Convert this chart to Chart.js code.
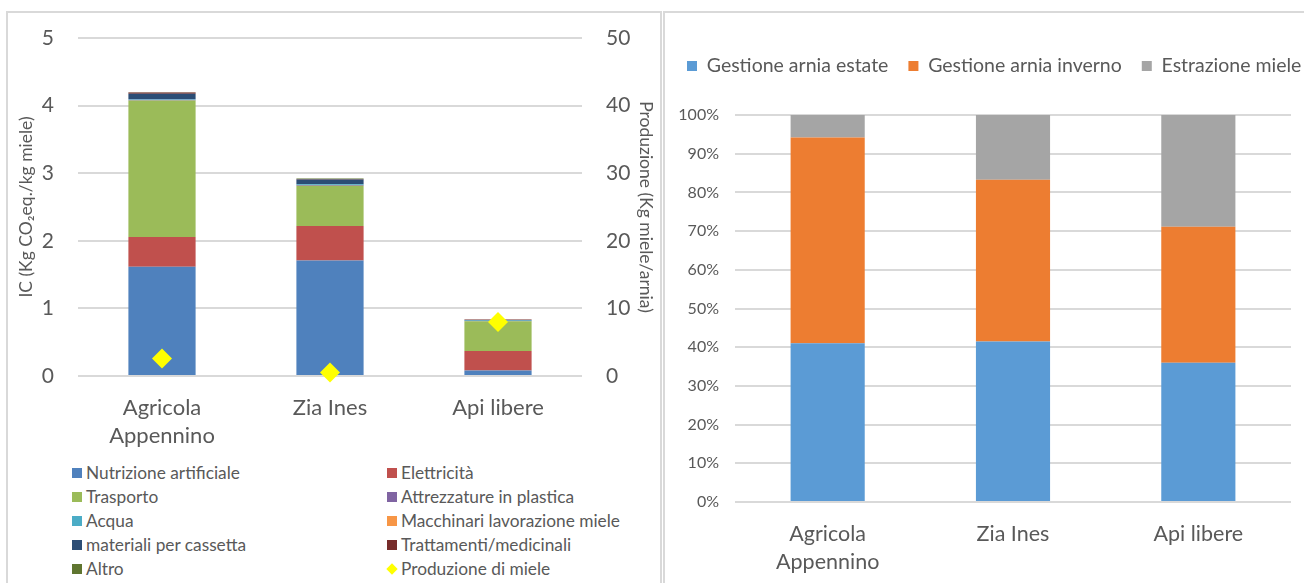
<!DOCTYPE html>
<html>
<head>
<meta charset="utf-8">
<script src="https://cdn.jsdelivr.net/npm/chart.js@4.4.1/dist/chart.umd.min.js"></script>
<style>
  html, body { margin: 0; padding: 0; background: #fff; width: 1304px; height: 583px; overflow: hidden; font-family: Lato, "Open Sans", sans-serif; }
  .panel { position: absolute; top: 11px; height: 640px; box-sizing: border-box; border: 2px solid #D9D9D9; border-bottom: none; }
  #p1 { left: 6px; width: 656px; }
  #p2 { left: 663px; width: 700px; }
  canvas { position: absolute; }
  #c1 { left: 0; top: 0; }
  #c2 { left: 663px; top: 0; }
  .lg-box { position: absolute; width: 10px; height: 10px; }
  .lg-diamond { position: absolute; width: 8px; height: 8px; transform: rotate(45deg); }
  .lg-text { position: absolute; font-size: 17.3px; line-height: 20px; color: #595959; white-space: nowrap; }
</style>
</head>
<body>
<div class="panel" id="p1"></div>
<div class="panel" id="p2"></div>
<canvas id="c1" width="660" height="460"></canvas>
<canvas id="c2" width="700" height="583"></canvas>
<div id="legend1"></div>
<script>
// Aziende confrontate
const categories = ['Agricola Appennino', 'Zia Ines', 'Api libere'];

// Impronta di carbonio per voce (kg CO2eq./kg miele)
const nutrizioneArtificiale = [1.617, 1.71, 0.08];
const elettricita = [0.44, 0.51, 0.29];
const trasporto = [2.02, 0.595, 0.44];
const attrezzatureInPlastica = [0.01, 0.01, 0.005];
const acqua = [0.01, 0.01, 0.005];
const macchinariLavorazioneMiele = [0, 0, 0];
const materialiPerCassetta = [0.08, 0.07, 0.01];
const trattamentiMedicinali = [0.015, 0.01, 0.005];
const altro = [0.005, 0.005, 0];

// Produzione di miele (kg miele/arnia)
const produzioneMiele = [2.6, 0.5, 8.0];

// Ripartizione percentuale per fase
const fasi = ['Gestione arnia estate', 'Gestione arnia inverno', 'Estrazione miele'];
const gestioneEstate = [41.0, 41.5, 36.0];
const gestioneInverno = [53.2, 41.8, 35.1];
const estrazioneMiele = [5.8, 16.7, 28.9];

// Scale
const icTicks = [0, 1, 2, 3, 4, 5];
const produzioneTicks = [0, 10, 20, 30, 40, 50];
const percentTicks = [0, 10, 20, 30, 40, 50, 60, 70, 80, 90, 100];

const TEXT = '#595959';
const GRID = '#D9D9D9';
Chart.defaults.font.family = 'Lato, "Open Sans", sans-serif';
Chart.defaults.color = TEXT;

function wrapLabel(label) {
  return label.length > 12 ? label.split(' ') : label;
}
function fixedTicks(list) {
  return function (scale) { scale.ticks = list.map(v => ({ value: v })); };
}

const impactSeries = [
  { label: 'Nutrizione artificiale', data: nutrizioneArtificiale, color: '#4F81BD' },
  { label: 'Elettricità', data: elettricita, color: '#C0504D' },
  { label: 'Trasporto', data: trasporto, color: '#9BBB59' },
  { label: 'Attrezzature in plastica', data: attrezzatureInPlastica, color: '#8064A2' },
  { label: 'Acqua', data: acqua, color: '#4BACC6' },
  { label: 'Macchinari lavorazione miele', data: macchinariLavorazioneMiele, color: '#F79646' },
  { label: 'materiali per cassetta', data: materialiPerCassetta, color: '#2C4D75' },
  { label: 'Trattamenti/medicinali', data: trattamentiMedicinali, color: '#772C2A' },
  { label: 'Altro', data: altro, color: '#5F7530' }
];

const leftDatasets = impactSeries.map(s => ({
  type: 'bar',
  label: s.label,
  data: s.data,
  backgroundColor: s.color,
  borderWidth: 0,
  yAxisID: 'y',
  stack: 'ic',
  order: 1,
  categoryPercentage: 1,
  barPercentage: 0.4
}));
leftDatasets.push({
  type: 'line',
  label: 'Produzione di miele',
  data: produzioneMiele,
  yAxisID: 'y1',
  stack: 'prod',
  showLine: false,
  pointStyle: 'rectRot',
  pointRadius: 10,
  pointHoverRadius: 10,
  pointBackgroundColor: '#FFFF00',
  pointBorderColor: '#FFFF00',
  pointBorderWidth: 0,
  backgroundColor: '#FFFF00',
  borderColor: '#FFFF00',
  order: 0,
  clip: false
});

new Chart(document.getElementById('c1'), {
  type: 'bar',
  data: { labels: categories, datasets: leftDatasets },
  options: {
    responsive: false,
    animation: false,
    layout: { padding: { top: 38, left: 0, right: 0, bottom: 0 } },
    plugins: { legend: { display: false }, tooltip: { enabled: false } },
    scales: {
      x: {
        stacked: true,
        grid: { display: false },
        border: { display: false },
        ticks: { font: { size: 22, lineHeight: 1.27 }, padding: 10, maxRotation: 0, autoSkip: false,
          callback: function (v) { return wrapLabel(this.getLabelForValue(v)); } },
        afterFit: s => { s.height = 84; }
      },
      y: {
        stacked: true,
        position: 'left',
        min: icTicks[0], max: icTicks[icTicks.length - 1],
        afterBuildTicks: fixedTicks(icTicks),
        grid: { color: GRID, lineWidth: 2, drawTicks: false },
        border: { display: false },
        ticks: { font: { size: 21 }, padding: 24 },
        title: { display: true, text: 'IC (Kg CO₂eq./kg miele)', font: { size: 17.5 }, padding: { top: 16, bottom: 0 } },
        afterFit: s => { s.width = 78; }
      },
      y1: {
        position: 'right',
        min: produzioneTicks[0], max: produzioneTicks[produzioneTicks.length - 1],
        afterBuildTicks: fixedTicks(produzioneTicks),
        grid: { drawOnChartArea: false, drawTicks: false },
        border: { display: false },
        ticks: { font: { size: 21 }, padding: 24 },
        title: { display: true, text: 'Produzione (Kg miele/arnia)', font: { size: 17.5 }, padding: { top: 4, bottom: 0 } },
        afterFit: s => { s.width = 78; }
      }
    }
  }
});

// Two-column legend under the impact chart
(function buildLegend() {
  const host = document.getElementById('legend1');
  const items = impactSeries.map(s => ({ label: s.label, color: s.color, diamond: false }));
  items.push({ label: 'Produzione di miele', color: '#FFFF00', diamond: true });
  items.forEach((it, i) => {
    const col = i % 2, row = Math.floor(i / 2);
    const x = col ? 387 : 72;
    const yc = 473 + row * 24;
    const mark = document.createElement('div');
    if (it.diamond) {
      mark.className = 'lg-diamond';
      mark.style.left = (x + 1) + 'px';
      mark.style.top = (yc - 4) + 'px';
    } else {
      mark.className = 'lg-box';
      mark.style.left = x + 'px';
      mark.style.top = (yc - 5) + 'px';
    }
    mark.style.background = it.color;
    host.appendChild(mark);
    const t = document.createElement('div');
    t.className = 'lg-text';
    t.textContent = it.label;
    t.style.left = (x + 14) + 'px';
    t.style.top = (yc - 10) + 'px';
    host.appendChild(t);
  });
})();

// Keeps a fixed band for the legend above the plot
const legendBand = {
  id: 'legendBand',
  beforeInit(chart, args, opts) {
    const legend = chart.legend;
    if (!legend) return;
    const fit = legend.fit;
    legend.fit = function () { fit.call(this); this.height = opts.height; };
  }
};

const phaseColors = ['#5B9BD5', '#ED7D31', '#A5A5A5'];
const phaseData = [gestioneEstate, gestioneInverno, estrazioneMiele];

new Chart(document.getElementById('c2'), {
  type: 'bar',
  data: {
    labels: categories,
    datasets: fasi.map((f, i) => ({
      label: f,
      data: phaseData[i],
      backgroundColor: phaseColors[i],
      borderWidth: 0,
      categoryPercentage: 1,
      barPercentage: 0.4
    }))
  },
  plugins: [legendBand],
  options: {
    responsive: false,
    animation: false,
    layout: { padding: { top: 36.25, left: 4, right: 0, bottom: 0 } },
    plugins: {
      legendBand: { height: 78.75 },
      tooltip: { enabled: false },
      legend: {
        position: 'top',
        align: 'start',
        labels: { boxWidth: 10, boxHeight: 10, padding: 20, font: { size: 19.5 }, color: TEXT }
      }
    },
    scales: {
      x: {
        stacked: true,
        grid: { display: false },
        border: { display: false },
        ticks: { font: { size: 21.5, lineHeight: 1.3 }, padding: 10, maxRotation: 0, autoSkip: false,
          callback: function (v) { return wrapLabel(this.getLabelForValue(v)); } },
        afterFit: s => { s.height = 81; }
      },
      y: {
        stacked: true,
        min: percentTicks[0], max: percentTicks[percentTicks.length - 1],
        afterBuildTicks: fixedTicks(percentTicks),
        grid: { color: GRID, lineWidth: 2, drawTicks: false },
        border: { display: false },
        ticks: { font: { size: 16 }, padding: 16, callback: v => v + '%' },
        afterFit: s => { s.width = 68; }
      },
      // empty margin on the right of the plot, keeps the legend on one row
      margin: {
        type: 'linear',
        position: 'right',
        grid: { display: false },
        border: { display: false },
        ticks: { display: false },
        afterFit: s => { s.width = 72; }
      }
    }
  }
});
</script>
</body>
</html>
